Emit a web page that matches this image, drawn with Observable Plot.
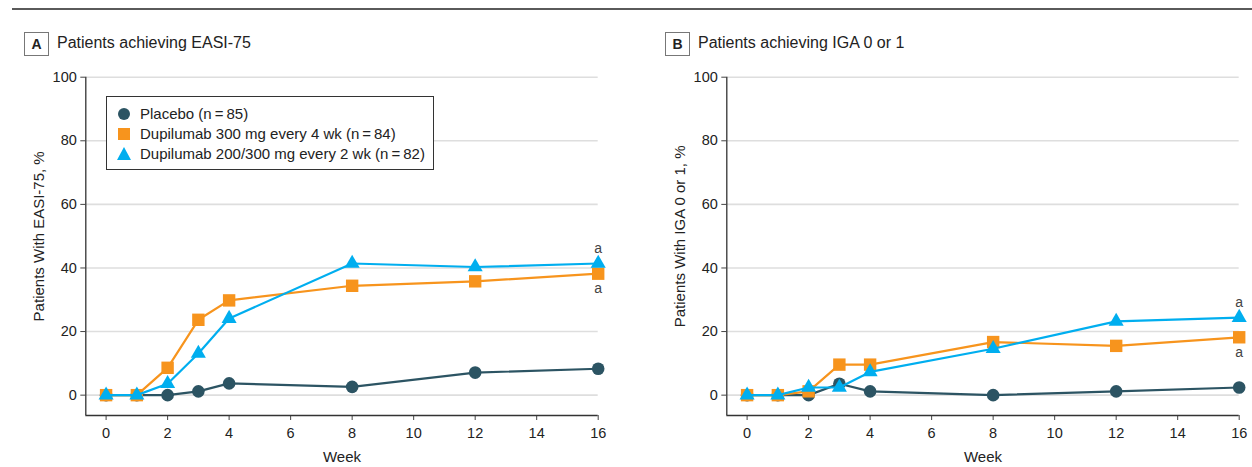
<!DOCTYPE html>
<html>
<head>
<meta charset="utf-8">
<script src="https://cdn.jsdelivr.net/npm/d3@7"></script>
<script src="https://cdn.jsdelivr.net/npm/@observablehq/plot@0.6"></script>
<style>
  body { margin: 0; background: #fff; font-family: "Liberation Sans", Arial, sans-serif; color: #222; }
  #root { position: relative; width: 1252px; height: 467px; overflow: hidden; }
  .toprule { position: absolute; left: 12px; top: 8px; width: 1240px; height: 2px; background: #5a5a5a; }
  .chart { position: absolute; top: 0; width: 611px; height: 467px; }
  .chart svg { max-width: none !important; }
  .plab { position: absolute; top: 32px; width: 23px; height: 22px; border: 1px solid #777; box-sizing: content-box;
          font-weight: bold; font-size: 14px; text-align: center; line-height: 22px; color: #222; }
  .ptitle { position: absolute; top: 33px; font-size: 16px; line-height: 20px; color: #222; white-space: nowrap; }
  .legend { position: absolute; left: 106px; top: 96px; width: 326px; height: 72px; border: 1px solid #333; background: #fff; }
  .lrow { position: absolute; left: 0; height: 20px; font-size: 15px; line-height: 20px; white-space: nowrap; color: #222; }
  .lrow .txt { position: absolute; left: 33px; top: 0; }
  .mk { position: absolute; }
</style>
</head>
<body>
<div id="root">
  <div class="toprule"></div>
  <div id="chartA" class="chart" style="left:0px"></div>
  <div id="chartB" class="chart" style="left:641px"></div>
</div>
<script>
// ---- data ----
const weeks = [0, 1, 2, 3, 4, 8, 12, 16];
const seriesNames = ["Placebo (n\u2009=\u200985)", "Dupilumab 300 mg every 4 wk (n\u2009=\u200984)", "Dupilumab 200/300 mg every 2 wk (n\u2009=\u200982)"];
const seriesColors = ["#2c5463", "#f7941d", "#00aeef"];
const seriesSymbols = ["circle", "square", "triangle"];

const easiPlacebo = [0, 0, 0, 1.2, 3.7, 2.6, 7.1, 8.3];
const easiQ4w     = [0, 0, 8.6, 23.7, 29.8, 34.4, 35.8, 38.2];
const easiQ2w     = [0, 0, 3.6, 13.1, 24.1, 41.4, 40.3, 41.4];

const igaPlacebo = [0, 0, 0, 3.6, 1.2, 0, 1.2, 2.4];
const igaQ4w     = [0, 0, 1.2, 9.6, 9.6, 16.7, 15.5, 18.2];
const igaQ2w     = [0, 0, 2.4, 2.4, 7.3, 14.6, 23.2, 24.4];

const xTicks = [0, 2, 4, 6, 8, 10, 12, 14, 16];
const yTicks = [0, 20, 40, 60, 80, 100];

const panelLetters = ["A", "B"];
const panelTitles = ["Patients achieving EASI-75", "Patients achieving IGA 0 or 1"];
const yLabels = ["Patients With EASI-75, %", "Patients With IGA 0 or 1, %"];
const xLabel = "Week";
const footnote = "a";

// ---- build ----
const FONT = '"Liberation Sans", Arial, sans-serif';
const X0 = -0.66, YMIN = -6.4;

function buildRows(values) {
  return weeks.map((w, i) => ({ week: w, value: values[i] }));
}

function makePlot(seriesValues, yLabel) {
  const marks = [
    Plot.gridY({ ticks: yTicks, stroke: "#dedede", strokeOpacity: 1, strokeWidth: 1.6 }),
    Plot.axisY({ ticks: yTicks, tickSize: 5, tickPadding: 4, label: null, stroke: "#444", fill: "#222", fontSize: 14.5 }),
    Plot.axisX({ ticks: xTicks, tickSize: 5, tickPadding: 7, label: null, stroke: "#444", fill: "#222", fontSize: 14.5 }),
    Plot.ruleX([X0], { y1: YMIN, y2: 100, stroke: "#333", strokeWidth: 1.3 }),
    Plot.ruleY([YMIN], { x1: X0, x2: 16, stroke: "#333", strokeWidth: 1.3 }),
    Plot.text([yLabel], { frameAnchor: "left", textAnchor: "middle", dx: -47, dy: -10, rotate: -90, fontSize: 15, fill: "#222" }),
    Plot.text([xLabel], { frameAnchor: "bottom", dy: 46, fontSize: 15, fill: "#222" })
  ];
  const sizes = [6.3, 7.0, 5.6];
  seriesValues.forEach((vals, k) => {
    const rows = buildRows(vals);
    marks.push(Plot.line(rows, { x: "week", y: "value", stroke: seriesColors[k], strokeWidth: 2.2 }));
    marks.push(Plot.dot(rows, { x: "week", y: "value", symbol: seriesSymbols[k], fill: seriesColors[k], stroke: "none", r: sizes[k] }));
  });
  // footnote markers at last week: above series 3, below series 2
  const last = weeks.length - 1;
  marks.push(Plot.text([{ week: weeks[last], value: seriesValues[2][last] }], { x: "week", y: "value", text: () => footnote, dy: -15, fontSize: 14, fill: "#444" }));
  marks.push(Plot.text([{ week: weeks[last], value: seriesValues[1][last] }], { x: "week", y: "value", text: () => footnote, dy: 15, fontSize: 14, fill: "#444" }));

  return Plot.plot({
    width: 611,
    height: 467,
    marginLeft: 85.3,
    marginRight: 13.3,
    marginTop: 76.7,
    marginBottom: 52,
    x: { domain: [X0, 16] },
    y: { domain: [YMIN, 100] },
    style: { fontFamily: FONT, background: "transparent", overflow: "visible" },
    marks
  });
}

const containers = [document.getElementById("chartA"), document.getElementById("chartB")];
const panelData = [[easiPlacebo, easiQ4w, easiQ2w], [igaPlacebo, igaQ4w, igaQ2w]];
const labLefts = [24, 665];

panelData.forEach((sv, p) => {
  const c = containers[p];
  c.appendChild(makePlot(sv, yLabels[p]));
  const root = document.getElementById("root");
  const lab = document.createElement("div");
  lab.className = "plab";
  lab.style.left = labLefts[p] + "px";
  lab.textContent = panelLetters[p];
  root.appendChild(lab);
  const t = document.createElement("div");
  t.className = "ptitle";
  t.style.left = (labLefts[p] + 33) + "px";
  t.textContent = panelTitles[p];
  root.appendChild(t);
});

// legend (panel A)
const legend = document.createElement("div");
legend.className = "legend";
const rowTops = [7, 27, 47];
seriesNames.forEach((name, k) => {
  const row = document.createElement("div");
  row.className = "lrow";
  row.style.top = rowTops[k] + "px";
  const mk = document.createElement("div");
  mk.className = "mk";
  if (seriesSymbols[k] === "circle") {
    Object.assign(mk.style, { left: "11px", top: "4px", width: "12px", height: "12px", borderRadius: "50%", background: seriesColors[k] });
  } else if (seriesSymbols[k] === "square") {
    Object.assign(mk.style, { left: "11px", top: "4px", width: "12px", height: "12px", background: seriesColors[k] });
  } else {
    Object.assign(mk.style, { left: "10px", top: "3px", width: "0", height: "0", borderLeft: "7px solid transparent", borderRight: "7px solid transparent", borderBottom: "13px solid " + seriesColors[k] });
  }
  row.appendChild(mk);
  const tx = document.createElement("span");
  tx.className = "txt";
  tx.textContent = name;
  row.appendChild(tx);
  legend.appendChild(row);
});
document.getElementById("root").appendChild(legend);
</script>
</body>
</html>
